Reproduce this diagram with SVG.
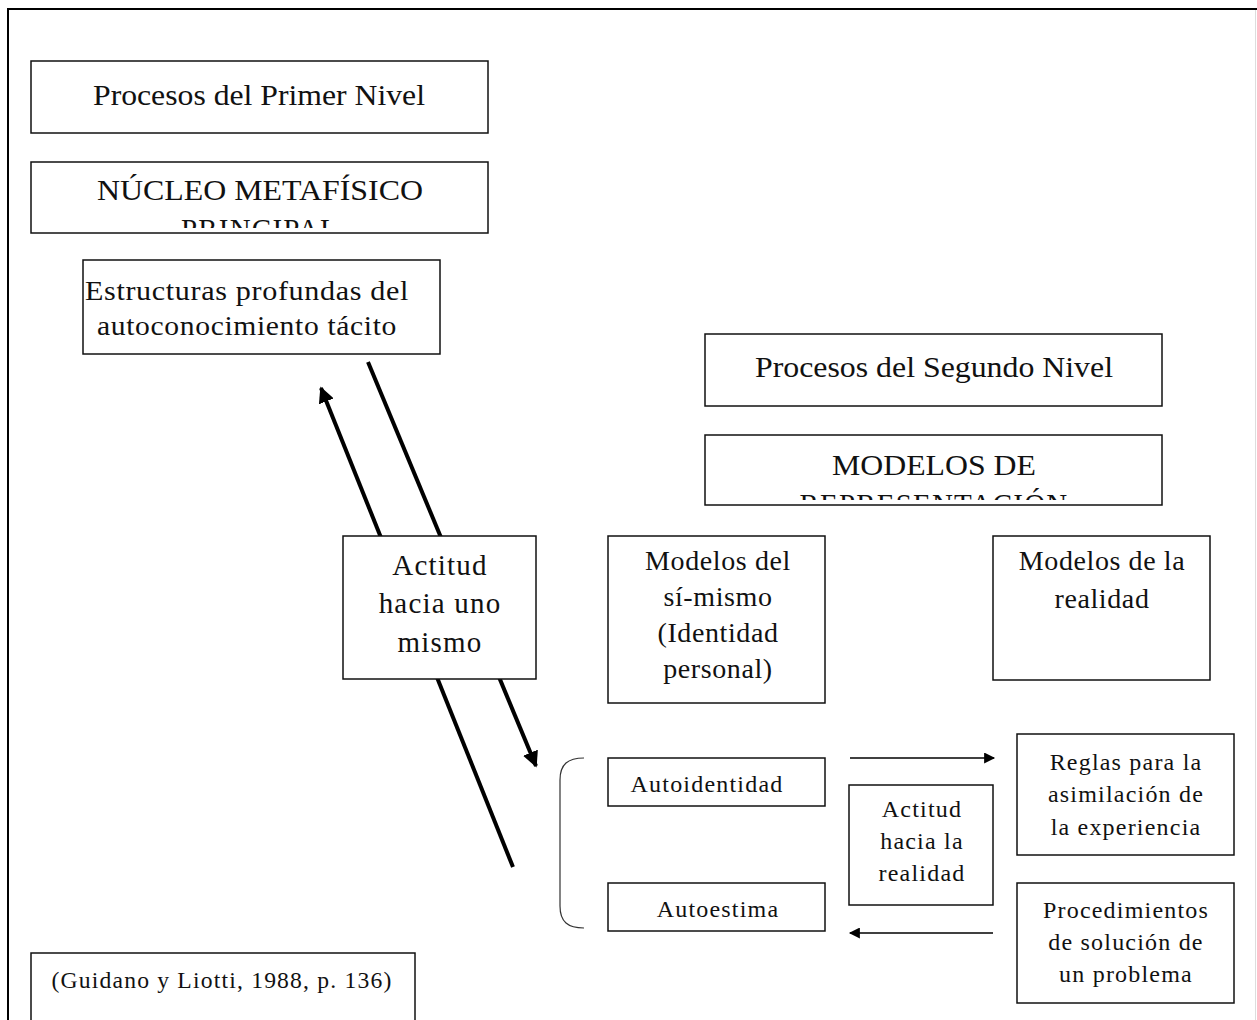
<svg xmlns="http://www.w3.org/2000/svg" width="1257" height="1020" viewBox="0 0 1257 1020">
<defs>
<style>
.box{fill:#fff;stroke:#111;stroke-width:1.5}
.t{font-family:"Liberation Serif","Times New Roman",serif;fill:#111;text-anchor:middle}
.big{font-size:29px}
.bigs{font-size:29px;letter-spacing:1.2px}
.mid{font-size:28px;letter-spacing:0.6px}
.sm{font-size:24px;letter-spacing:1.2px}
.thick{stroke:#000;stroke-width:4;fill:none}
.thin{stroke:#000;stroke-width:1.3;fill:none}
</style>
<marker id="ah" viewBox="0 0 10 10" refX="9" refY="5" markerWidth="4" markerHeight="4" orient="auto" markerUnits="strokeWidth">
<path d="M0,0 L10,5 L0,10 z" fill="#000"/>
</marker>
<marker id="ahs" viewBox="0 0 10 10" refX="9" refY="5" markerWidth="14" markerHeight="11" orient="auto" markerUnits="userSpaceOnUse">
<path d="M0,0 L10,5 L0,10 z" fill="#000"/>
</marker>
<clipPath id="c2"><rect x="32" y="163" width="455" height="65"/></clipPath>
<clipPath id="c5"><rect x="706" y="436" width="455" height="64"/></clipPath>
</defs>
<rect x="0" y="0" width="1257" height="1020" fill="#fff"/>
<g id="frame">
<line x1="7" y1="9" x2="1257" y2="9" stroke="#000" stroke-width="2"/>
<line x1="8" y1="8" x2="8" y2="1020" stroke="#000" stroke-width="2"/>
<line x1="1255.5" y1="10" x2="1255.5" y2="1020" stroke="#ddd" stroke-width="1"/>
</g>
<g id="connectors">
<line class="thick" x1="513" y1="867" x2="321" y2="388" marker-end="url(#ah)"/>
<line class="thick" x1="368" y1="362" x2="536" y2="766" marker-end="url(#ah)"/>
<line class="thin" x1="850" y1="758" x2="994" y2="758" marker-end="url(#ahs)"/>
<line class="thin" x1="993" y1="933" x2="850" y2="933" marker-end="url(#ahs)"/>
<path d="M584,758 C568,758 560,764 560,780 L560,906 C560,922 568,928 584,928" fill="none" stroke="#333" stroke-width="1.2"/>
</g>
<g id="n1"><rect class="box" x="31" y="61" width="457" height="72"/><text class="t big" x="259" y="105" textLength="332" lengthAdjust="spacingAndGlyphs">Procesos del Primer Nivel</text></g>
<g id="n2"><rect class="box" x="31" y="162" width="457" height="71"/><g clip-path="url(#c2)"><text class="t big" x="260" y="200" textLength="326" lengthAdjust="spacingAndGlyphs">NÚCLEO METAFÍSICO</text><text class="t bigs" x="260" y="239">PRINCIPAL</text></g></g>
<g id="n3"><rect class="box" x="83" y="260" width="357" height="94"/><text class="t mid" x="247" y="300" textLength="324" lengthAdjust="spacingAndGlyphs">Estructuras profundas del</text><text class="t mid" x="247" y="335" textLength="300" lengthAdjust="spacingAndGlyphs">autoconocimiento tácito</text></g>
<g id="n4"><rect class="box" x="705" y="334" width="457" height="72"/><text class="t big" x="934" y="377" textLength="358" lengthAdjust="spacingAndGlyphs">Procesos del Segundo Nivel</text></g>
<g id="n5"><rect class="box" x="705" y="435" width="457" height="70"/><g clip-path="url(#c5)"><text class="t big" x="934" y="475" textLength="204" lengthAdjust="spacingAndGlyphs">MODELOS DE</text><text class="t bigs" x="934" y="514">REPRESENTACIÓN</text></g></g>
<g id="n6"><rect class="box" x="343" y="536" width="193" height="143"/><text class="t bigs"><tspan x="440" y="575">Actitud</tspan><tspan x="440" y="613">hacia uno</tspan><tspan x="440" y="652">mismo</tspan></text></g>
<g id="n7"><rect class="box" x="608" y="536" width="217" height="167"/><text class="t mid"><tspan x="718" y="570">Modelos del</tspan><tspan x="718" y="606">sí-mismo</tspan><tspan x="718" y="642">(Identidad</tspan><tspan x="718" y="678">personal)</tspan></text></g>
<g id="n8"><rect class="box" x="993" y="536" width="217" height="144"/><text class="t mid"><tspan x="1102" y="570">Modelos de la</tspan><tspan x="1102" y="608">realidad</tspan></text></g>
<g id="n9"><rect class="box" x="608" y="758" width="217" height="48"/><text class="t sm" x="707" y="792">Autoidentidad</text></g>
<g id="n10"><rect class="box" x="608" y="883" width="217" height="48"/><text class="t sm" x="718" y="917">Autoestima</text></g>
<g id="n11"><rect class="box" x="849" y="785" width="144" height="120"/><text class="t sm"><tspan x="922" y="817">Actitud</tspan><tspan x="922" y="849">hacia la</tspan><tspan x="922" y="881">realidad</tspan></text></g>
<g id="n12"><rect class="box" x="1017" y="734" width="217" height="121"/><text class="t sm"><tspan x="1126" y="770">Reglas para la</tspan><tspan x="1126" y="802">asimilación de</tspan><tspan x="1126" y="835">la experiencia</tspan></text></g>
<g id="n13"><rect class="box" x="1017" y="883" width="217" height="120"/><text class="t sm"><tspan x="1126" y="918">Procedimientos</tspan><tspan x="1126" y="950">de solución de</tspan><tspan x="1126" y="982">un problema</tspan></text></g>
<g id="n14"><rect class="box" x="31" y="953" width="384" height="80"/><text class="t sm" x="222" y="988" textLength="341" lengthAdjust="spacingAndGlyphs">(Guidano y Liotti, 1988, p. 136)</text></g>
</svg>
